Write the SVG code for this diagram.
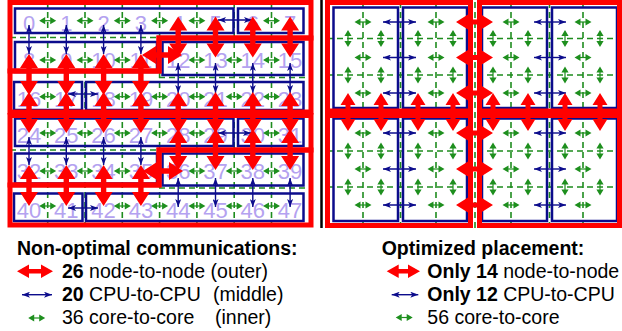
<svg xmlns="http://www.w3.org/2000/svg" width="622" height="331" viewBox="0 0 622 331">
  <style>
    .num { font: 22px "Liberation Sans", Arial, sans-serif; fill: #b4a2f0; text-anchor: middle; }
    .cpu { fill: none; stroke: #0c0c8c; stroke-width: 2.5; }
    .node { fill: none; stroke: #ff0000; stroke-width: 5; stroke-linejoin: miter; }
    .grid { fill: none; stroke: #1e8c1e; stroke-width: 1.6; stroke-dasharray: 6 4; }
    .blue { stroke: #0c0c8c; stroke-width: 1.4; marker-start: url(#bh); marker-end: url(#bh); }
    .red { fill: #ff0000; }
    .grn { fill: #1e8f1e; }
    .leg { font: 19.5px "Liberation Sans", Arial, sans-serif; fill: #000; }
    .b { font-weight: bold; }
  </style>
  <defs>
    <marker id="bh" viewBox="0 0 8 6" refX="8" refY="3" markerWidth="8" markerHeight="6" markerUnits="userSpaceOnUse" orient="auto-start-reverse">
      <path d="M0,0 L8,3 L0,6 L2,3 Z" fill="#0c0c8c"/>
    </marker>
    <!-- core-to-core arrows, centred on the origin -->
    <g id="gh" class="grn">
      <path d="M-8.5,0 L-2.5,-3.6 L-2.5,3.6 Z M8.5,0 L2.5,-3.6 L2.5,3.6 Z"/>
      <path d="M-3,0 H3" stroke="#1e8f1e" stroke-width="1.2"/>
    </g>
    <g id="gv" class="grn">
      <path d="M0,-8.5 L-3.6,-2.5 L3.6,-2.5 Z M0,8.5 L-3.6,2.5 L3.6,2.5 Z"/>
      <path d="M0,-3 V3" stroke="#1e8f1e" stroke-width="1.2"/>
    </g>
    <!-- node-to-node arrows, origin at the first tip -->
    <path id="rv" class="red" d="M0,0 L9,14 L2.7,14 L2.7,27 L9,27 L0,41 L-9,27 L-2.7,27 L-2.7,14 L-9,14 Z"/>
    <path id="rh" class="red" d="M0,0 L14,-9 L14,-2.7 L26,-2.7 L26,-9 L40,0 L26,9 L26,2.7 L14,2.7 L14,9 Z"/>
    <path id="rv2" class="red" d="M0,0 L7.5,12 L2.5,12 L2.5,26 L7.5,26 L0,38 L-7.5,26 L-2.5,26 L-2.5,12 L-7.5,12 Z"/>
    <path id="rh2" class="red" d="M0,0 L12,-7.5 L12,-2.5 L25,-2.5 L25,-7.5 L37,0 L25,7.5 L25,2.5 L12,2.5 L12,7.5 Z"/>
  </defs>

  <rect width="622" height="331" fill="#fff"/>

  <!-- core grid, left layout -->
  <g id="left-grid" class="grid">
    <path d="M47.7,2 V225 M85,2 V225 M122.3,2 V225 M159.6,2 V225 M196.9,2 V225 M234.2,2 V225 M271.5,2 V225"/>
    <path d="M10,37.5 H159 M159,77.5 H311 M10,150 H159 M159,188 H311"/>
  </g>

  <!-- core grid, right layout -->
  <g id="right-grid" class="grid">
    <path d="M363,2 V226 M400.5,2 V226 M436,2 V226 M475,2 V228 M511,2 V226 M549.5,2 V226 M583,2 V226"/>
    <path d="M327,38.5 H620 M327,75 H620 M327,151 H620 M327,187 H620"/>
  </g>

  <line x1="321.5" y1="0" x2="321.5" y2="228" stroke="#000" stroke-width="2.5"/>

  <!-- left layout: 4 nodes x 2 CPUs x 6 cores, row-major numbering -->
  <g id="left-node-1">
    <rect class="cpu" x="15" y="8.5" width="218.5" height="24.5"/>
    <rect class="cpu" x="238" y="8.5" width="65.5" height="24.5"/>
    <rect class="cpu" x="15" y="42" width="142" height="30"/>
    <g class="num">
      <text x="29" y="31">0</text><text x="66.3" y="31">1</text><text x="103.6" y="31">2</text><text x="140.9" y="31">3</text>
      <text x="178.2" y="31">4</text><text x="215.5" y="31">5</text><text x="252.8" y="31">6</text><text x="290.1" y="31">7</text>
      <text x="29" y="67.5">8</text><text x="66.3" y="67.5">9</text><text x="103.6" y="67.5">10</text><text x="140.9" y="67.5">11</text>
    </g>
  </g>
  <g id="left-node-2">
    <rect class="cpu" x="162.5" y="42" width="141" height="33"/>
    <rect class="cpu" x="14" y="82" width="68" height="28"/>
    <rect class="cpu" x="86" y="82" width="217.5" height="28"/>
    <g class="num">
      <text x="178.2" y="67.5">12</text><text x="215.5" y="67.5">13</text><text x="252.8" y="67.5">14</text><text x="290.1" y="67.5">15</text>
      <text x="29" y="106.5">16</text><text x="66.3" y="106.5">17</text><text x="103.6" y="106.5">18</text><text x="140.9" y="106.5">19</text>
      <text x="178.2" y="106.5">20</text><text x="215.5" y="106.5">21</text><text x="252.8" y="106.5">22</text><text x="290.1" y="106.5">23</text>
    </g>
  </g>
  <g id="left-node-3">
    <rect class="cpu" x="15" y="118.5" width="218.5" height="27.5"/>
    <rect class="cpu" x="238" y="118.5" width="65.5" height="27.5"/>
    <rect class="cpu" x="15" y="153.5" width="142" height="30"/>
    <g class="num">
      <text x="29" y="143">24</text><text x="66.3" y="143">25</text><text x="103.6" y="143">26</text><text x="140.9" y="143">27</text>
      <text x="178.2" y="143">28</text><text x="215.5" y="143">29</text><text x="252.8" y="143">30</text><text x="290.1" y="143">31</text>
      <text x="29" y="179">32</text><text x="66.3" y="179">33</text><text x="103.6" y="179">34</text><text x="140.9" y="179">35</text>
    </g>
  </g>
  <g id="left-node-4">
    <rect class="cpu" x="162.5" y="153.5" width="141" height="32"/>
    <rect class="cpu" x="14" y="193.5" width="68.5" height="27.5"/>
    <rect class="cpu" x="86" y="193.5" width="217.5" height="27.5"/>
    <g class="num">
      <text x="178.2" y="179">36</text><text x="215.5" y="179">37</text><text x="252.8" y="179">38</text><text x="290.1" y="179">39</text>
      <text x="29" y="218">40</text><text x="66.3" y="218">41</text><text x="103.6" y="218">42</text><text x="140.9" y="218">43</text>
      <text x="178.2" y="218">44</text><text x="215.5" y="218">45</text><text x="252.8" y="218">46</text><text x="290.1" y="218">47</text>
    </g>
  </g>

  <!-- right layout: 4 nodes x 2 CPUs of 2x3 cores -->
  <g id="right-node-1">
    <rect class="cpu" x="333.5" y="7.5" width="64.5" height="100.5"/>
    <rect class="cpu" x="403" y="7.5" width="64" height="100.5"/>
  </g>
  <g id="right-node-2">
    <rect class="cpu" x="482" y="7.5" width="65" height="100.5"/>
    <rect class="cpu" x="552" y="7.5" width="65" height="100.5"/>
  </g>
  <g id="right-node-3">
    <rect class="cpu" x="333.5" y="118.5" width="64.5" height="102.5"/>
    <rect class="cpu" x="403" y="118.5" width="64" height="102.5"/>
  </g>
  <g id="right-node-4">
    <rect class="cpu" x="482" y="118.5" width="65" height="102.5"/>
    <rect class="cpu" x="552" y="118.5" width="65" height="102.5"/>
  </g>

  <!-- node outlines -->
  <g id="node-outlines" class="node">
    <polygon points="10,2.5 311,2.5 311,38 159,38 159,71 10,71"/>
    <polygon points="159,38 311,38 311,112 10,112 10,71 159,71"/>
    <polygon points="10,115.5 311,115.5 311,150 159,150 159,185 10,185"/>
    <polygon points="159,150 311,150 311,225 10,225 10,185 159,185"/>
    <rect x="327.5" y="2.5" width="143" height="108.5"/>
    <rect x="479.5" y="2.5" width="140" height="108.5"/>
    <rect x="327.5" y="115.5" width="143" height="110"/>
    <rect x="479.5" y="115.5" width="140" height="110"/>
  </g>

  <g id="connectors">
    <!-- core-to-core, left -->
    <g id="left-core">
      <use href="#gh" x="47.7" y="20.7"/><use href="#gh" x="85" y="20.7"/><use href="#gh" x="122.3" y="20.7"/><use href="#gh" x="159.6" y="20.7"/><use href="#gh" x="196.9" y="20.7"/><use href="#gh" x="271.5" y="20.7"/>
      <use href="#gh" x="47.7" y="60"/><use href="#gh" x="85" y="60"/><use href="#gh" x="122.3" y="60"/><use href="#gh" x="196.9" y="60"/><use href="#gh" x="234.2" y="60"/><use href="#gh" x="271.5" y="60"/>
      <use href="#gh" x="47.7" y="96.7"/><use href="#gh" x="122.3" y="96.7"/><use href="#gh" x="159.6" y="96.7"/><use href="#gh" x="196.9" y="96.7"/><use href="#gh" x="234.2" y="96.7"/><use href="#gh" x="271.5" y="96.7"/>
      <use href="#gh" x="47.7" y="133"/><use href="#gh" x="85" y="133"/><use href="#gh" x="122.3" y="133"/><use href="#gh" x="159.6" y="133"/><use href="#gh" x="196.9" y="133"/><use href="#gh" x="271.5" y="133"/>
      <use href="#gh" x="47.7" y="171"/><use href="#gh" x="85" y="171"/><use href="#gh" x="122.3" y="171"/><use href="#gh" x="196.9" y="171"/><use href="#gh" x="234.2" y="171"/><use href="#gh" x="271.5" y="171"/>
      <use href="#gh" x="47.7" y="206"/><use href="#gh" x="122.3" y="206"/><use href="#gh" x="159.6" y="206"/><use href="#gh" x="196.9" y="206"/><use href="#gh" x="234.2" y="206"/><use href="#gh" x="271.5" y="206"/>
    </g>
    <!-- core-to-core, right -->
    <g id="right-core">
      <use href="#gh" x="363" y="22"/><use href="#gh" x="436" y="22"/><use href="#gh" x="511" y="22"/><use href="#gh" x="583" y="22"/>
      <use href="#gh" x="363" y="57.5"/><use href="#gh" x="436" y="57.5"/><use href="#gh" x="511" y="57.5"/><use href="#gh" x="583" y="57.5"/>
      <use href="#gh" x="363" y="93"/><use href="#gh" x="436" y="93"/><use href="#gh" x="511" y="93"/><use href="#gh" x="583" y="93"/>
      <use href="#gh" x="363" y="133"/><use href="#gh" x="436" y="133"/><use href="#gh" x="511" y="133"/><use href="#gh" x="583" y="133"/>
      <use href="#gh" x="363" y="169"/><use href="#gh" x="436" y="169"/><use href="#gh" x="511" y="169"/><use href="#gh" x="583" y="169"/>
      <use href="#gh" x="363" y="205"/><use href="#gh" x="436" y="205"/><use href="#gh" x="511" y="205"/><use href="#gh" x="583" y="205"/>
      <use href="#gv" x="348" y="38.5"/><use href="#gv" x="381" y="38.5"/><use href="#gv" x="418" y="38.5"/><use href="#gv" x="453" y="38.5"/><use href="#gv" x="493" y="38.5"/><use href="#gv" x="528" y="38.5"/><use href="#gv" x="565" y="38.5"/><use href="#gv" x="600" y="38.5"/>
      <use href="#gv" x="348" y="75"/><use href="#gv" x="381" y="75"/><use href="#gv" x="418" y="75"/><use href="#gv" x="453" y="75"/><use href="#gv" x="493" y="75"/><use href="#gv" x="528" y="75"/><use href="#gv" x="565" y="75"/><use href="#gv" x="600" y="75"/>
      <use href="#gv" x="348" y="151"/><use href="#gv" x="381" y="151"/><use href="#gv" x="418" y="151"/><use href="#gv" x="453" y="151"/><use href="#gv" x="493" y="151"/><use href="#gv" x="528" y="151"/><use href="#gv" x="565" y="151"/><use href="#gv" x="600" y="151"/>
      <use href="#gv" x="348" y="187"/><use href="#gv" x="381" y="187"/><use href="#gv" x="418" y="187"/><use href="#gv" x="453" y="187"/><use href="#gv" x="493" y="187"/><use href="#gv" x="528" y="187"/><use href="#gv" x="565" y="187"/><use href="#gv" x="600" y="187"/>
    </g>
    <!-- CPU-to-CPU -->
    <g id="cpu-links" class="blue">
      <line x1="29" y1="25" x2="29" y2="54"/><line x1="66.3" y1="25" x2="66.3" y2="54"/><line x1="103.6" y1="25" x2="103.6" y2="54"/><line x1="140.9" y1="25" x2="140.9" y2="54"/>
      <line x1="178.2" y1="63" x2="178.2" y2="93"/><line x1="215.5" y1="63" x2="215.5" y2="93"/><line x1="252.8" y1="63" x2="252.8" y2="93"/><line x1="290.1" y1="63" x2="290.1" y2="93"/>
      <line x1="29" y1="137" x2="29" y2="165"/><line x1="66.3" y1="137" x2="66.3" y2="165"/><line x1="103.6" y1="137" x2="103.6" y2="165"/><line x1="140.9" y1="137" x2="140.9" y2="165"/>
      <line x1="178.2" y1="178" x2="178.2" y2="207"/><line x1="215.5" y1="178" x2="215.5" y2="207"/><line x1="252.8" y1="178" x2="252.8" y2="207"/><line x1="290.1" y1="178" x2="290.1" y2="207"/>
      <line x1="218" y1="20" x2="252" y2="20"/><line x1="68" y1="94" x2="98" y2="94"/>
      <line x1="218" y1="133" x2="251" y2="133"/><line x1="68" y1="208" x2="98" y2="208"/>
      <line x1="383" y1="22" x2="416" y2="22"/><line x1="383" y1="57.5" x2="416" y2="57.5"/><line x1="383" y1="93" x2="416" y2="93"/>
      <line x1="383" y1="133" x2="416" y2="133"/><line x1="383" y1="169" x2="416" y2="169"/><line x1="383" y1="205" x2="416" y2="205"/>
      <line x1="534" y1="22" x2="566" y2="22"/><line x1="534" y1="57.5" x2="566" y2="57.5"/><line x1="534" y1="93" x2="566" y2="93"/>
      <line x1="534" y1="133" x2="566" y2="133"/><line x1="534" y1="169" x2="566" y2="169"/><line x1="534" y1="205" x2="566" y2="205"/>
    </g>
    <!-- node-to-node -->
    <g id="node-links">
      <use href="#rv" x="178.2" y="16.5"/><use href="#rv" x="215.5" y="16.5"/><use href="#rv" x="252.8" y="16.5"/><use href="#rv" x="290.1" y="16.5"/>
      <use href="#rv" x="29" y="54"/><use href="#rv" x="66.3" y="54"/><use href="#rv" x="103.6" y="54"/><use href="#rv" x="140.9" y="54"/>
      <use href="#rv" x="29" y="92"/><use href="#rv" x="66.3" y="92"/><use href="#rv" x="103.6" y="92"/><use href="#rv" x="140.9" y="92"/>
      <use href="#rv" x="178.2" y="92"/><use href="#rv" x="215.5" y="92"/><use href="#rv" x="252.8" y="92"/><use href="#rv" x="290.1" y="92"/>
      <use href="#rv" x="178.2" y="129"/><use href="#rv" x="215.5" y="129"/><use href="#rv" x="252.8" y="129"/><use href="#rv" x="290.1" y="129"/>
      <use href="#rv" x="29" y="165"/><use href="#rv" x="66.3" y="165"/><use href="#rv" x="103.6" y="165"/><use href="#rv" x="140.9" y="165"/>
      <use href="#rh" x="142" y="55"/><use href="#rh" x="143" y="171"/>
      <use href="#rv2" x="348" y="93"/><use href="#rv2" x="381" y="93"/><use href="#rv2" x="418" y="93"/><use href="#rv2" x="453" y="93"/>
      <use href="#rv2" x="493" y="93"/><use href="#rv2" x="528" y="93"/><use href="#rv2" x="565" y="93"/><use href="#rv2" x="600" y="93"/>
      <use href="#rh2" x="456" y="22"/><use href="#rh2" x="456" y="57.5"/><use href="#rh2" x="456" y="93"/>
      <use href="#rh2" x="456" y="133"/><use href="#rh2" x="456" y="169"/><use href="#rh2" x="456" y="205"/>
    </g>
  </g>

  <!-- legends -->
  <g id="legend-left">
    <text class="leg b" x="17" y="254.5">Non-optimal communications:</text>
    <path class="red" d="M17,271.3 L29,264.6 L29,269 L41,269 L41,264.6 L53,271.3 L41,278 L41,273.6 L29,273.6 L29,278 Z"/>
    <text class="leg" x="62" y="277.5"><tspan class="b">26</tspan> node-to-node (outer)</text>
    <line class="blue" x1="22" y1="294.7" x2="52" y2="294.7"/>
    <text class="leg" x="62" y="300.8"><tspan class="b">20</tspan> CPU-to-CPU<tspan x="213">(middle)</tspan></text>
    <use href="#gh" x="36.7" y="318"/>
    <text class="leg" x="62" y="324.2">36 core-to-core<tspan x="215">(inner)</tspan></text>
  </g>
  <g id="legend-right">
    <text class="leg b" x="381.7" y="254.5">Optimized placement:</text>
    <path class="red" d="M386.7,271.3 L398.7,264.6 L398.7,269 L408,269 L408,264.6 L420,271.3 L408,278 L408,273.6 L398.7,273.6 L398.7,278 Z"/>
    <text class="leg" x="427.3" y="277.5"><tspan class="b">Only 14</tspan> node-to-node</text>
    <line class="blue" x1="391.7" y1="294.7" x2="418.3" y2="294.7"/>
    <text class="leg" x="427.3" y="300.8"><tspan class="b">Only 12</tspan> CPU-to-CPU</text>
    <use href="#gh" x="404.2" y="317.5"/>
    <text class="leg" x="427.3" y="324.2">56 core-to-core</text>
  </g>
</svg>
